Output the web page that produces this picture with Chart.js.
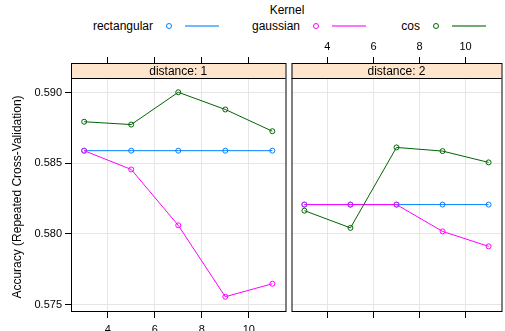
<!DOCTYPE html>
<html>
<head>
<meta charset="utf-8">
<script src="https://cdn.jsdelivr.net/npm/chart.js@4"></script>
<style>
  html, body { margin: 0; padding: 0; background: #fff; }
  #wrap { position: relative; width: 505px; height: 331px; overflow: hidden;
          font-family: "Liberation Sans", Arial, sans-serif; color: #000; }
  .panel { position: absolute; top: 0; }
  .lg { position: absolute; font-size: 12px; line-height: 14px; white-space: nowrap; }
  .dot { position: absolute; width: 4px; height: 4px; border: 1px solid; border-radius: 50%; }
  .seg { position: absolute; height: 2px; }
</style>
</head>
<body>
<div id="wrap">
  <div id="legend"></div>
  <canvas id="p1" class="panel" width="289" height="331" style="left:0"></canvas>
  <canvas id="p2" class="panel" width="217" height="331" style="left:288px"></canvas>
</div>
<script>
// data
const kValues = [3, 5, 7, 9, 11];
const kernels = ['rectangular', 'gaussian', 'cos'];
const kernelColors = ['#0080ff', '#ff00ff', '#006400'];
const distances = ['distance: 1', 'distance: 2'];

const dist1Rect  = [0.5859, 0.5859, 0.5859, 0.5859, 0.5859];
const dist1Gauss = [0.5859, 0.58457, 0.58061, 0.57555, 0.57647];
const dist1Cos   = [0.58795, 0.58775, 0.59004, 0.58882, 0.58728];

const dist2Rect  = [0.58208, 0.58208, 0.58208, 0.58208, 0.58208];
const dist2Gauss = [0.58208, 0.58208, 0.58208, 0.58018, 0.57912];
const dist2Cos   = [0.58165, 0.58043, 0.58613, 0.58587, 0.58507];

const xTicks = [4, 6, 8, 10];
const yTicks = [0.575, 0.580, 0.585, 0.590];
const xLim = [2.44, 11.56];
const yLim = [0.57454, 0.59105];

const font = { family: '"Liberation Sans", Arial, sans-serif', size: 11 };
const gridColor = '#e6e6e6';
const stripH = 15;
// chart area runs 63..311, the strip sits inside its top 15px
const areaH = 248;
const yMax = (yLim[1] - yLim[0] * stripH / areaH) / (1 - stripH / areaH);

// legend (html)
const legend = document.getElementById('legend');
const title = document.createElement('div');
title.className = 'lg';
title.textContent = 'Kernel';
title.style.left = '287px'; title.style.top = '3px';
title.style.transform = 'translateX(-50%)';
legend.appendChild(title);
const textRight = [153, 300, 420];
kernels.forEach((k, i) => {
  const t = document.createElement('div');
  t.className = 'lg';
  t.textContent = k;
  t.style.right = (505 - textRight[i]) + 'px';
  t.style.top = '19px';
  legend.appendChild(t);
  const d = document.createElement('div');
  d.className = 'dot';
  d.style.borderColor = kernelColors[i];
  d.style.left = (textRight[i] + 13) + 'px';
  d.style.top = '23px';
  legend.appendChild(d);
  const s = document.createElement('div');
  s.className = 'seg';
  s.style.background = kernelColors[i];
  s.style.opacity = 0.55;
  s.style.left = (textRight[i] + 32) + 'px';
  s.style.width = '34px';
  s.style.top = '25px';
  legend.appendChild(s);
});

const panelDecor = {
  id: 'panelDecor',
  beforeDatasetsDraw(chart, args, opts) {
    const { ctx, chartArea: a } = chart;
    ctx.save();
    ctx.fillStyle = '#ffe5cc';
    ctx.fillRect(a.left, a.top, a.right - a.left, stripH);
    ctx.strokeStyle = '#000';
    ctx.lineWidth = 1;
    ctx.beginPath();
    ctx.moveTo(a.left, a.top + stripH + 0.5);
    ctx.lineTo(a.right, a.top + stripH + 0.5);
    ctx.stroke();
    ctx.fillStyle = '#000';
    ctx.font = '12px "Liberation Sans", Arial, sans-serif';
    ctx.textAlign = 'center';
    ctx.textBaseline = 'middle';
    ctx.fillText(opts.text, (a.left + a.right) / 2, a.top + stripH / 2 + 1);
    ctx.restore();
  },
  afterDraw(chart, args, opts) {
    const { ctx, chartArea: a } = chart;
    ctx.save();
    ctx.strokeStyle = '#000';
    ctx.lineWidth = 1;
    ctx.strokeRect(a.left + 0.5, a.top + 0.5, a.right - a.left, a.bottom - a.top);
    if (opts.yTitle) {
      ctx.translate(18, 197);
      ctx.rotate(-Math.PI / 2);
      ctx.fillStyle = '#000';
      ctx.font = '12px "Liberation Sans", Arial, sans-serif';
      ctx.textAlign = 'center';
      ctx.textBaseline = 'middle';
      ctx.fillText(opts.yTitle, 0, 0);
    }
    ctx.restore();
  }
};

function makePanel(id, stripText, series, first) {
  const datasets = kernels.map((k, i) => ({
    label: k,
    data: kValues.map((x, j) => ({ x: x, y: series[i][j] })),
    borderColor: kernelColors[i],
    backgroundColor: 'rgba(0,0,0,0)',
    pointBackgroundColor: 'rgba(0,0,0,0)',
    borderWidth: 1,
    pointRadius: 2.5,
    pointHoverRadius: 2.5,
    pointBorderWidth: 1,
    order: kernels.length - i
  }));
  const setX = s => { s.ticks = xTicks.map(v => ({ value: v })); };
  return new Chart(document.getElementById(id), {
    type: 'line',
    data: { datasets: datasets },
    options: {
      responsive: false,
      animation: false,
      devicePixelRatio: 1,
      layout: { padding: { left: 0, right: 1, top: 0, bottom: 0 } },
      plugins: {
        legend: { display: false },
        tooltip: { enabled: false },
        panelDecor: { text: stripText, yTitle: first ? 'Accuracy (Repeated Cross-Validation)' : null }
      },
      scales: {
        x: {
          type: 'linear', position: 'bottom', min: xLim[0], max: xLim[1],
          afterBuildTicks: setX,
          afterFit: s => { s.height = 20; },
          grid: { color: gridColor, tickColor: '#000', tickLength: 7 },
          border: { display: false },
          ticks: { display: first, font: font, color: '#000', padding: 5 }
        },
        xTop: {
          type: 'linear', position: 'top', min: xLim[0], max: xLim[1],
          afterBuildTicks: setX,
          afterFit: s => { s.height = 63; },
          grid: { drawOnChartArea: false, tickColor: '#000', tickLength: 6 },
          border: { display: false },
          ticks: { display: !first, font: font, color: '#000', padding: 3 }
        },
        y: {
          type: 'linear', min: yLim[0], max: yMax,
          afterBuildTicks: s => { s.ticks = yTicks.map(v => ({ value: v })); },
          afterFit: s => { s.width = first ? 71 : 0; },
          grid: { color: gridColor, tickColor: '#000', tickLength: 6, drawTicks: first },
          border: { display: false },
          ticks: { display: first, font: font, color: '#000', padding: 3,
                   callback: v => v.toFixed(3) }
        }
      }
    },
    plugins: [panelDecor]
  });
}

makePanel('p1', distances[0], [dist1Rect, dist1Gauss, dist1Cos], true);
makePanel('p2', distances[1], [dist2Rect, dist2Gauss, dist2Cos], false);
</script>
</body>
</html>
